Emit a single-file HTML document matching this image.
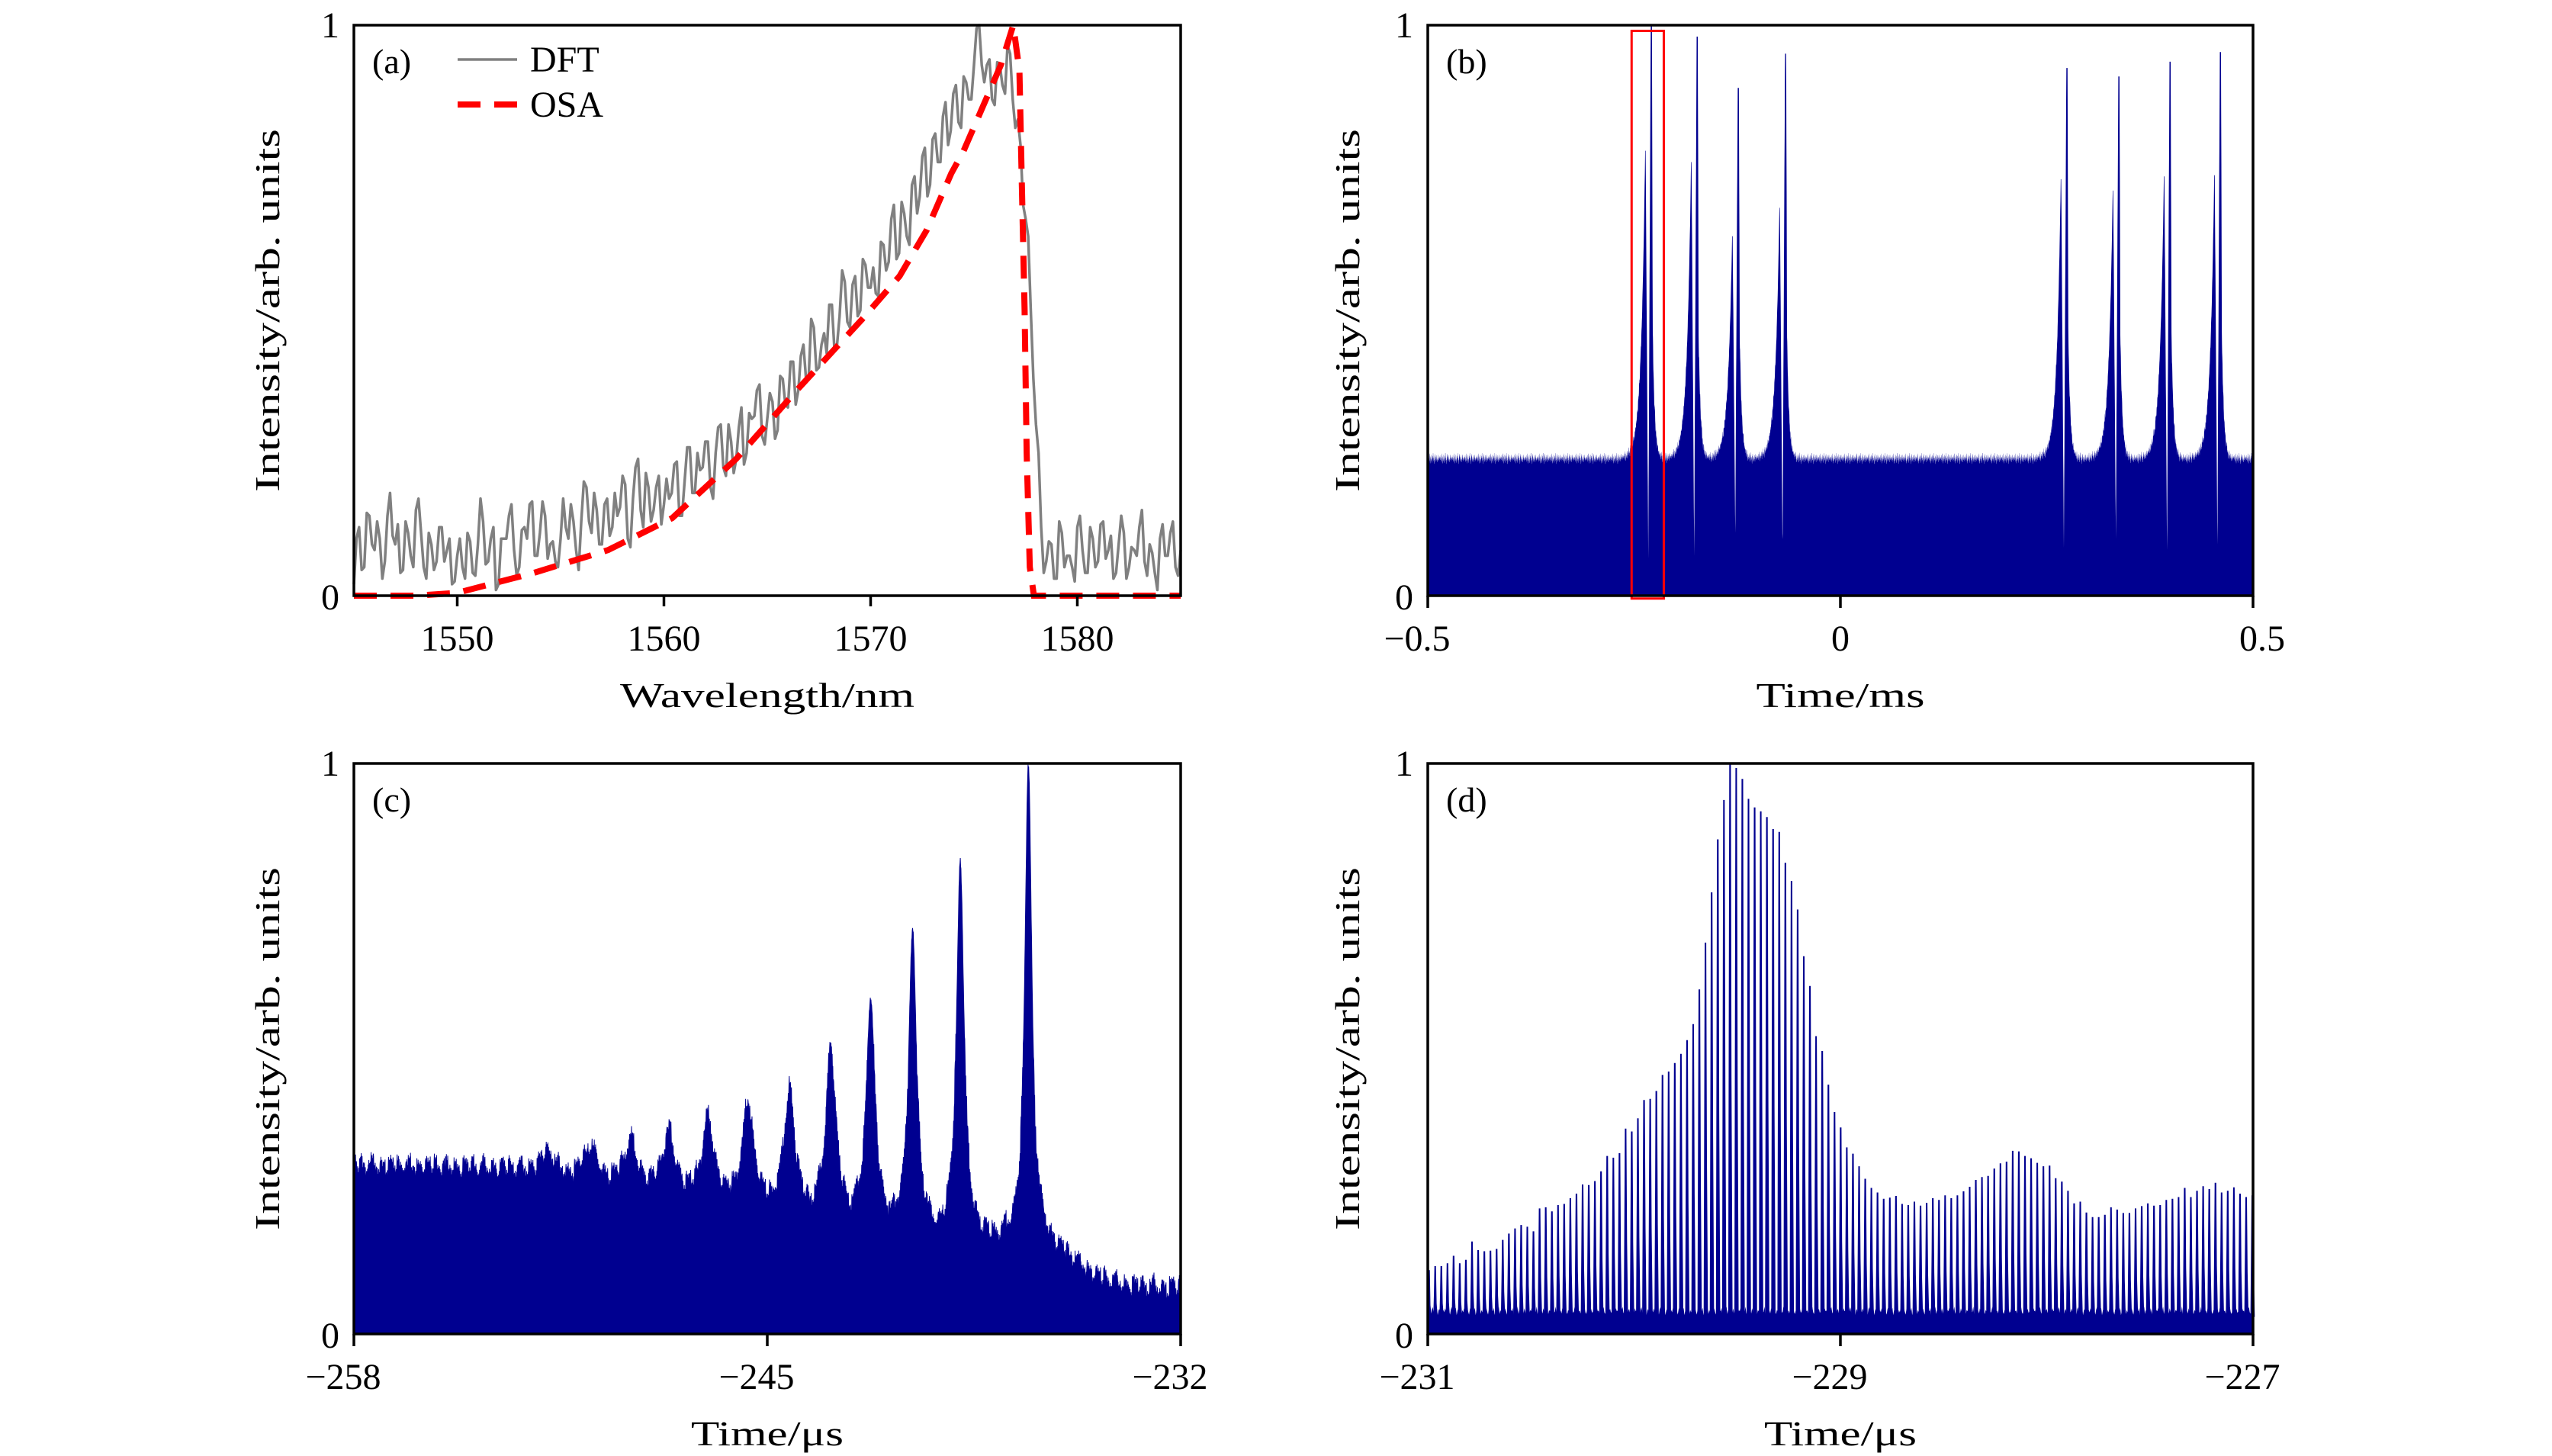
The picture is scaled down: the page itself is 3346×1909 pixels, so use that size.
<!DOCTYPE html>
<html><head><meta charset="utf-8"><style>
html,body{margin:0;padding:0;background:#fff;}
svg{display:block;}
text{font-family:"Liberation Serif",serif;fill:#000;}
</style></head><body>
<svg id="fig" xmlns="http://www.w3.org/2000/svg" width="3346" height="1909" viewBox="0 0 3346 1909">
<rect x="0" y="0" width="3346" height="1909" fill="#fff"/>
<g id="layer-a"></g>
<g id="layer-b"></g>
<g id="layer-c"></g>
<g id="layer-d"></g>

<rect x="464" y="33" width="1084" height="748" fill="none" stroke="#000" stroke-width="3.5"/>
<rect x="1872" y="33" width="1082" height="748" fill="none" stroke="#000" stroke-width="3.5"/>
<rect x="464" y="1001" width="1084" height="748" fill="none" stroke="#000" stroke-width="3.5"/>
<rect x="1872" y="1001" width="1082" height="748" fill="none" stroke="#000" stroke-width="3.5"/>

<g stroke="#000" stroke-width="3.5">
<line x1="599.5" y1="781" x2="599.5" y2="795"/><line x1="870.5" y1="781" x2="870.5" y2="795"/><line x1="1141.5" y1="781" x2="1141.5" y2="795"/><line x1="1412.5" y1="781" x2="1412.5" y2="795"/>
<line x1="1872" y1="781" x2="1872" y2="797"/><line x1="2413" y1="781" x2="2413" y2="797"/><line x1="2954" y1="781" x2="2954" y2="797"/>
<line x1="464" y1="1749" x2="464" y2="1765"/><line x1="1006" y1="1749" x2="1006" y2="1765"/><line x1="1548" y1="1749" x2="1548" y2="1765"/>
<line x1="1872" y1="1749" x2="1872" y2="1765"/><line x1="2413" y1="1749" x2="2413" y2="1765"/><line x1="2954" y1="1749" x2="2954" y2="1765"/>
</g>

<g font-size="48" text-anchor="middle">
<text x="599.5" y="853">1550</text><text x="870.5" y="853">1560</text><text x="1141.5" y="853">1570</text><text x="1412.5" y="853">1580</text>
<text x="1858" y="853">−0.5</text><text x="2413" y="853">0</text><text x="2966" y="853">0.5</text>
<text x="450" y="1821">−258</text><text x="992" y="1821">−245</text><text x="1534" y="1821">−232</text>
<text x="1858" y="1821">−231</text><text x="2399" y="1821">−229</text><text x="2940" y="1821">−227</text>
</g>
<g font-size="48" text-anchor="end">
<text x="445" y="49">1</text><text x="445" y="799">0</text>
<text x="1853" y="49">1</text><text x="1853" y="799">0</text>
<text x="445" y="1017">1</text><text x="445" y="1767">0</text>
<text x="1853" y="1017">1</text><text x="1853" y="1767">0</text>
</g>

<text x="1006" y="927" font-size="46" text-anchor="middle" textLength="386" lengthAdjust="spacingAndGlyphs">Wavelength/nm</text>
<text x="2413" y="927" font-size="46" text-anchor="middle" textLength="221" lengthAdjust="spacingAndGlyphs">Time/ms</text>
<text x="1006" y="1895" font-size="46" text-anchor="middle" textLength="200" lengthAdjust="spacingAndGlyphs">Time/μs</text>
<text x="2413" y="1895" font-size="46" text-anchor="middle" textLength="200" lengthAdjust="spacingAndGlyphs">Time/μs</text>
<text transform="translate(366,407) rotate(-90)" font-size="46" text-anchor="middle" textLength="476" lengthAdjust="spacingAndGlyphs">Intensity/arb. units</text>
<text transform="translate(1782,407) rotate(-90)" font-size="46" text-anchor="middle" textLength="476" lengthAdjust="spacingAndGlyphs">Intensity/arb. units</text>
<text transform="translate(366,1375) rotate(-90)" font-size="46" text-anchor="middle" textLength="476" lengthAdjust="spacingAndGlyphs">Intensity/arb. units</text>
<text transform="translate(1782,1375) rotate(-90)" font-size="46" text-anchor="middle" textLength="476" lengthAdjust="spacingAndGlyphs">Intensity/arb. units</text>

<text x="488" y="96" font-size="46">(a)</text>
<text x="1896" y="96" font-size="46">(b)</text>
<text x="488" y="1064" font-size="46">(c)</text>
<text x="1896" y="1064" font-size="46">(d)</text>

<g>
<line x1="600" y1="78" x2="678" y2="78" stroke="#808080" stroke-width="3.5"/>
<text x="695" y="94" font-size="48">DFT</text>
<line x1="600" y1="137" x2="678" y2="137" stroke="#ff0000" stroke-width="8" stroke-dasharray="30,18"/>
<text x="695" y="153" font-size="48">OSA</text>
</g>
</svg>
<script>
// ---------- Panel (a) data ----------
const aXMin=1545, aXMax=1585;
const dftValues=[0.02,0.12,0.05,0.14,0.08,0.10,0.06,0.18,0.09,0.04,0.13,0.07,0.15,0.11,0.03,0.09,0.06,0.12,0.08,0.02,0.07,
0.05,0.11,0.04,0.09,0.13,0.06,0.12,0.02,0.10,0.14,0.08,0.05,0.12,0.16,0.07,0.11,0.14,0.09,0.06,0.10,
0.12,0.16,0.08,0.13,0.19,0.11,0.15,0.09,0.17,0.12,0.14,0.21,0.10,0.17,0.24,0.12,0.19,0.15,0.21,0.16,
0.17,0.23,0.14,0.20,0.26,0.18,0.22,0.27,0.19,0.25,0.30,0.21,0.27,0.24,0.33,0.25,0.31,0.36,0.28,0.31,
0.34,0.29,0.38,0.33,0.41,0.36,0.44,0.38,0.47,0.40,0.46,0.51,0.43,0.49,0.55,0.47,0.56,0.50,0.58,0.54,
0.53,0.62,0.57,0.66,0.59,0.69,0.63,0.72,0.67,0.77,0.70,0.80,0.76,0.84,0.79,0.88,0.83,0.91,0.87,0.93,
1.0,0.90,0.94,0.86,0.93,0.88,0.95,0.82,0.79,0.66,0.50,0.30,
0.12,0.06,0.09,0.03,0.11,0.07,0.05,0.12,0.08,0.04,0.10,0.06,0.13,0.08,0.03,0.09,0.11,0.05,0.08,0.12,0.06,0.09,0.04,0.10,0.07,0.11,0.05,0.08];
const dftJitter=[0.03,-0.04,0.05,-0.02,0.04,-0.05,0.02,-0.03,0.06,-0.04,0.01,-0.06,0.04,-0.02,0.05,-0.03];
const osaX=[1545,1548,1550,1553.7,1557.3,1560.4,1563.5,1566.5,1569.6,1571.4,1572.7,1573.9,1574.5,1575.7,1576.3,1576.9,1577.2,1577.3,1577.45,1577.55,1577.7,1577.9,1585];
const osaY=[0,0,0.005,0.04,0.08,0.136,0.24,0.363,0.485,0.56,0.64,0.74,0.78,0.88,0.93,1.0,0.92,0.75,0.5,0.25,0.05,0,0];

// ---------- Panel (b) data ----------
const bGroupFirstT=[-0.2366,-0.181,-0.1312,-0.0739,0.267,0.330,0.392,0.453];
const bGroupFirstH=[0.78,0.76,0.63,0.68,0.73,0.71,0.735,0.737];
const bGroupSpikeH=[1.0,0.98,0.89,0.95,0.925,0.91,0.936,0.953];
const bGroupGapH=[0.065,0.07,0.11,0.08,0.083,0.10,0.08,0.09];
const bBaseNoise=[0.243,0.238,0.246,0.235,0.241,0.249,0.237,0.232,0.244,0.24,0.236,0.247,0.239,0.233,0.245,0.241,0.25,0.236,0.242,0.238,0.231,0.244,0.248,0.24,0.235,0.243,0.237,0.246,0.239,0.234,0.242,0.247,0.238,0.241,0.236,0.244,0.24];
const bBoxT=[-0.253,-0.214];
const bBoxV=[-0.005,0.99];

// ---------- Panel (c) data ----------
const cPeakT=[-251.9,-250.57,-249.3,-248.1,-246.86,-245.6,-244.3,-243.0,-241.75,-240.43,-238.93,-236.79];
const cPeakH=[0.31,0.32,0.33,0.345,0.37,0.40,0.425,0.505,0.59,0.705,0.83,1.0];
const cPeakW=[0.25,0.25,0.24,0.23,0.22,0.21,0.2,0.18,0.16,0.15,0.14,0.13];
const cBaseT=[-258,-253,-250,-248,-246,-244,-242,-240,-238,-236.3,-235.5,-234.5,-233.5,-232];
const cBaseV=[0.285,0.28,0.26,0.245,0.228,0.21,0.195,0.17,0.155,0.15,0.12,0.085,0.072,0.07];
const cNoise=[0.008,-0.006,0.012,-0.01,0.003,0.015,-0.004,-0.012,0.006,0.01,-0.008,0.002,0.013,-0.011,0.005,-0.003,0.011,-0.009,0.007,-0.013,0.004,0.009,-0.005,0.014,-0.007,0.001,0.01,-0.012,0.006,-0.002,0.012];
const cSlowNoise=[0.01,-0.008,0.014,0.0,-0.012,0.006,0.016,-0.004,-0.01,0.008,0.002,-0.014,0.012];

// ---------- Panel (d) data ----------
const dFirstPulseT=-230.994, dPulsePeriod=0.02978;
const dPulseH=[0.112,0.119,0.119,0.124,0.137,0.124,0.130,0.162,0.147,0.145,
0.146,0.149,0.165,0.176,0.185,0.191,0.188,0.180,0.220,0.222,
0.215,0.226,0.228,0.238,0.246,0.262,0.261,0.268,0.285,0.312,
0.309,0.317,0.360,0.355,0.378,0.410,0.412,0.426,0.454,0.460,
0.475,0.491,0.515,0.543,0.604,0.686,0.774,0.867,0.936,1.0,
0.992,0.973,0.938,0.923,0.916,0.906,0.885,0.880,0.826,0.794,
0.744,0.662,0.610,0.522,0.496,0.437,0.389,
0.362,0.327,0.316,0.294,0.272,0.256,0.248,0.237,0.239,0.242,
0.228,0.226,0.232,0.225,0.230,0.238,0.235,0.243,0.238,0.243,
0.250,0.258,0.270,0.275,0.277,0.290,0.299,0.302,0.321,0.320,
0.312,0.308,0.300,0.294,0.295,0.273,0.267,0.251,0.229,0.232,
0.213,0.205,0.205,0.209,0.222,0.218,0.212,0.212,0.220,0.224,
0.229,0.225,0.226,0.235,0.237,0.240,0.256,0.240,0.251,0.259,
0.254,0.265,0.248,0.251,0.257,0.246,0.240,0.243];
const dFloorNoise=[0.036,0.031,0.04,0.034,0.029,0.038,0.042,0.033,0.03,0.037,0.035,0.041,0.028,0.036,0.039,0.032,0.034,0.043,0.03,0.037,0.033,0.04,0.035];

const NS='http://www.w3.org/2000/svg';
function axis(d0,d1,p0,p1){return v=>p0+(v-d0)/(d1-d0)*(p1-p0);}
function lerp(xs,ys,x){if(x<=xs[0])return ys[0];for(let i=1;i<xs.length;i++){if(x<=xs[i]){const f=(x-xs[i-1])/(xs[i]-xs[i-1]);return ys[i-1]+f*(ys[i]-ys[i-1]);}}return ys[ys.length-1];}
function pathFrom(pts,close){let s='M'+pts[0][0].toFixed(1)+','+pts[0][1].toFixed(1);for(let i=1;i<pts.length;i++)s+='L'+pts[i][0].toFixed(1)+','+pts[i][1].toFixed(1);return s+(close?'Z':'');}

// ----- Panel a -----
(function(){
  const g=document.getElementById('layer-a');
  const X=axis(aXMin,aXMax,464,1548), Y=axis(0,1,781,33);
  const n=dftValues.length, pts=[];
  const dx=(aXMax-aXMin)/(n-1);
  for(let i=0;i<n;i++){
    const x=aXMin+i*dx;pts.push([X(x),Y(dftValues[i])]);
    if(i<n-1){
      const mid=(dftValues[i]+dftValues[i+1])/2+dftJitter[i%dftJitter.length]*(dftValues[i]>0.9?0.5:1);
      pts.push([X(x+dx/2),Y(Math.max(0,Math.min(1,mid)))]);
    }
  }
  const p=document.createElementNS(NS,'path');
  p.setAttribute('d',pathFrom(pts,false));
  p.setAttribute('fill','none');p.setAttribute('stroke','#808080');p.setAttribute('stroke-width','3.5');p.setAttribute('stroke-linejoin','round');
  
  
  g.appendChild(p);
  const op=[];for(let i=0;i<osaX.length;i++)op.push([X(osaX[i]),Y(osaY[i])]);
  const q=document.createElementNS(NS,'path');
  q.setAttribute('d',pathFrom(op,false));
  q.setAttribute('fill','none');q.setAttribute('stroke','#ff0000');q.setAttribute('stroke-width','8');q.setAttribute('stroke-dasharray','30,18');
  
  
  g.appendChild(q);
})();

// ----- Panel b -----
(function(){
  const g=document.getElementById('layer-b');
  const X=axis(-0.5,0.5,1872,2954), Y=axis(0,1,781,33);
  function groupVal(t,base,i){
    const tf=bGroupFirstT[i],hf=bGroupFirstH[i],hs=bGroupSpikeH[i],hg=bGroupGapH[i];
    const d=t-tf;
    if(d<-0.03||d>0.025)return null;
    if(d<=0)return base+(hf-base)*Math.exp(d/0.005);
    if(d<0.0006)return hf;
    if(d<0.0038)return hf+(hg-hf)*((d-0.0006)/0.0032);
    if(d<0.0068)return hg+(hs-hg)*((d-0.0038)/0.003);
    if(d<0.0082)return hs;
    if(d<0.0092)return hs+(base+0.22-hs)*((d-0.0082)/0.001);
    return base+0.22*Math.exp(-(d-0.0092)/0.0025);
  }
  const pts=[[X(-0.5),Y(0)]];
  const step=0.0002;const N=Math.round(1/step);
  for(let k=0;k<=N;k++){
    const t=-0.5+k*step;let v=bBaseNoise[Math.floor(k/2)%bBaseNoise.length];
    for(let i=0;i<bGroupFirstT.length;i++){const gv=groupVal(t,v,i);if(gv!==null){v=gv;}}
    pts.push([X(t),Y(v)]);
  }
  pts.push([X(0.5),Y(0)]);
  const p=document.createElementNS(NS,'path');
  p.setAttribute('d',pathFrom(pts,true));
  p.setAttribute('fill','#000090');
  
  
  g.appendChild(p);
  const r=document.createElementNS(NS,'rect');
  r.setAttribute('x',X(bBoxT[0]));r.setAttribute('y',Y(bBoxV[1]));
  r.setAttribute('width',X(bBoxT[1])-X(bBoxT[0]));r.setAttribute('height',Y(bBoxV[0])-Y(bBoxV[1]));
  r.setAttribute('fill','none');r.setAttribute('stroke','#ff0000');r.setAttribute('stroke-width','3');
  
  
  g.appendChild(r);
})();

// ----- Panel c -----
(function(){
  const g=document.getElementById('layer-c');
  const X=axis(-258,-232,464,1548), Y=axis(0,1,1749,1001);
  const pts=[[X(-258),Y(0)]];
  const step=0.01;const N=Math.round(26/step);
  for(let k=0;k<=N;k++){
    const t=-258+k*step;const base=lerp(cBaseT,cBaseV,t);
    let v=base;
    for(let i=0;i<cPeakT.length;i++){const dd=(t-cPeakT[i])/cPeakW[i];const pv=base+(cPeakH[i]-base)/(1+dd*dd);if(pv>v)v=pv;}
    const nz=cNoise[k%cNoise.length]*1.3+cSlowNoise[Math.floor(k/9)%cSlowNoise.length];
    v+=nz*(v>0.5?0.3:1);
    if(v>1)v=1;
    pts.push([X(t),Y(v)]);
  }
  pts.push([X(-232),Y(0)]);
  const p=document.createElementNS(NS,'path');
  p.setAttribute('d',pathFrom(pts,true));
  p.setAttribute('fill','#000090');p.setAttribute('stroke','#000090');p.setAttribute('stroke-width','1');
  
  
  g.appendChild(p);
})();

// ----- Panel d -----
(function(){
  const g=document.getElementById('layer-d');
  const X=axis(-231,-227,1872,2954), Y=axis(0,1,1749,1001);
  const fp=[[X(-231),Y(0)]];
  const fs=0.004;const N=Math.round(4/fs);
  for(let k=0;k<=N;k++){const t=-231+k*fs;fp.push([X(t),Y(dFloorNoise[k%dFloorNoise.length]+0.005)]);}
  fp.push([X(-227),Y(0)]);
  const f=document.createElementNS(NS,'path');
  f.setAttribute('d',pathFrom(fp,true));
  f.setAttribute('fill','#000090');
  
  
  g.appendChild(f);
  let d='';
  for(let i=0;i<dPulseH.length;i++){
    const tp=dFirstPulseT+i*dPulsePeriod, h=dPulseH[i];
    const pts=[[X(tp-0.009),Y(0.03)],[X(tp-0.006),Y(h*0.6)],[X(tp-0.0038),Y(h)],[X(tp+0.0038),Y(h)],[X(tp+0.007),Y(h*0.45)],[X(tp+0.012),Y(0.03)]];
    d+=pathFrom(pts,true);
  }
  const p=document.createElementNS(NS,'path');
  p.setAttribute('d',d);
  p.setAttribute('fill','#000090');
  
  
  g.appendChild(p);
})();
</script>
</body></html>
